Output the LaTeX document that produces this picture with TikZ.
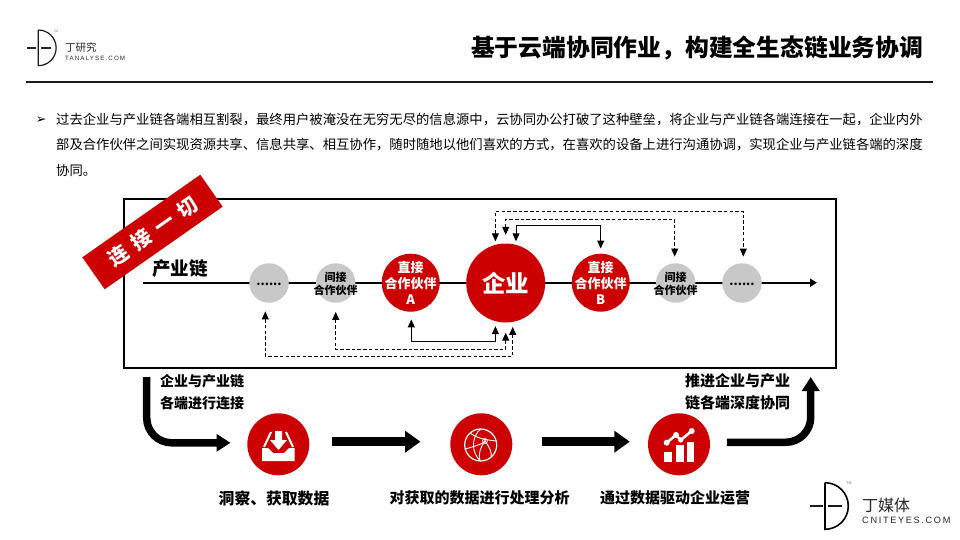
\documentclass[tikz,border=0pt]{standalone}
\usepackage{fontspec}
\setmainfont{Noto Sans CJK SC}
\newfontfamily\symfont{DejaVu Sans}
\newfontfamily\logofont[LetterSpace=18]{Liberation Sans}
\usetikzlibrary{arrows.meta}
\definecolor{chainred}{HTML}{CC0000}
\definecolor{chaingray}{HTML}{C8C8C8}
\newcommand{\fsz}[1]{\fontsize{#1}{#1}\selectfont}
\tikzset{
  hub/.style={circle, fill=chainred, inner sep=0pt, minimum size=58pt},
  side/.style={circle, fill=chaingray, inner sep=0pt, minimum size=39.5pt},
  stepdot/.style={circle, fill=chainred, inner sep=0pt, minimum size=62pt},
  hubtxt/.style={text=white, align=center, inner sep=0pt, font=\bfseries\fontsize{13}{15.6}\selectfont},
  sidetxt/.style={align=center, inner sep=0pt, font=\bfseries\fontsize{11}{13}\selectfont},
  steptxt/.style={inner sep=0pt, font=\bfseries\fsz{15}},
  notetxt/.style={align=left, inner sep=0pt, font=\bfseries\fontsize{14}{21.6}\selectfont},
  bodytxt/.style={anchor=west, inner sep=0pt, font=\fsz{13.33}},
  solidlink/.style={line width=1pt},
  dashlink/.style={line width=1pt, dash pattern=on 3.5pt off 2.2pt},
  bigarrow/.style={line width=8.5pt, -{Triangle[length=15.5pt,width=21pt]}}
}
\begin{document}
\begin{tikzpicture}[x=1pt, y=-1pt, >={Triangle[length=8pt,width=7pt]}]
\useasboundingbox (0,0) rectangle (960,540);

\draw[color=black!90, line width=1.2pt] (38.3,30) -- (38.3,65.7) arc (-90:90:17.85pt);
\draw[color=black!85, line width=1.2pt] (27,48) -- (36,48) (40.6,48) -- (51,48);
\node[inner sep=0pt, text=black!60, font=\fsz{3}] (tmtop) at (56,31) {TM};
\node[anchor=west, inner sep=0pt, text=black!85, font=\fsz{10.5}] (brandtop) at (65,47) {丁研究};
\node[anchor=west, inner sep=0pt, text=black!85, font=\logofont\fsz{6.2}] (urltop) at (65,58) {TANALYSE.COM};

\node[anchor=east, inner sep=0pt, font=\bfseries\fsz{23.8}] (title) at (923.5,48) {基于云端协同作业，构建全生态链业务协调};
\draw[line width=2pt, color=black!90] (26,81.7) -- (933,81.7);

\node[inner sep=0pt, font=\symfont\fsz{12.5}] (bullet) at (41,120.5) {➢};
\node[bodytxt] (bodya) at (56,120) {过去企业与产业链各端相互割裂，最终用户被淹没在无穷无尽的信息源中，云协同办公打破了这种壁垒，将企业与产业链各端连接在一起，企业内外};
\node[bodytxt] (bodyb) at (56,145) {部及合作伙伴之间实现资源共享、信息共享、相互协作，随时随地以他们喜欢的方式，在喜欢的设备上进行沟通协调，实现企业与产业链各端的深度};
\node[bodytxt] (bodyc) at (56,170) {协同。};

\draw[line width=2pt] (123.7,199) rectangle (836,367.7);
\node[fill=chainred, text=white, rotate=35, minimum width=144pt, minimum height=39pt, inner sep=0pt, font=\bfseries\fsz{20}] (banner) at (152.5,232) {\raisebox{-2pt}{连\hspace{8pt}接\hspace{8pt}一\hspace{8pt}切}};

\coordinate (chainL) at (143,282.7);
\coordinate (chainR) at (817,282.7);
\draw[line width=2pt, -{Triangle[length=7pt,width=8pt]}] (chainL) -- (chainR);
\node[inner sep=0pt, font=\bfseries\fsz{18.5}] (chain) at (180,269) {产业链};

\node[side] (moreL) at (269,283) {};
\node[side] (indirL) at (335.7,283) {};
\node[hub] (partA) at (410.7,282.7) {};
\node[hub, minimum size=79pt] (firm) at (505.7,283) {};
\node[hub] (partB) at (600.7,282.7) {};
\node[side] (indirR) at (675.7,283) {};
\node[side] (moreR) at (742,283) {};

\node[inner sep=0pt, font=\bfseries\fsz{12}] (moreLt) at (269,284) {......};
\node[sidetxt] (indirLt) at (335.7,283.5) {间接\\合作伙伴};
\node[hubtxt] (partAt) at (410.7,283) {直接\\合作伙伴\\A};
\node[text=white, inner sep=0pt, font=\bfseries\fsz{23.5}] (firmt) at (505.7,283) {企业};
\node[hubtxt] (partBt) at (600.7,283) {直接\\合作伙伴\\B};
\node[sidetxt] (indirRt) at (675.7,283.5) {间接\\合作伙伴};
\node[inner sep=0pt, font=\bfseries\fsz{12}] (moreRt) at (742,284) {......};

\draw[solidlink, <->] ([xshift=10.3pt,yshift=2pt]firm.north) -- ++(0,-15.5) -| ([yshift=5pt]partB.north);
\draw[dashlink, <->] ([xshift=-10.3pt,yshift=2pt]firm.north) |- (600,211.3) -| ([xshift=1.3pt,yshift=6.5pt]moreR.north);
\draw[dashlink, <->] ([yshift=8.5pt]firm.north) |- (600,219.3) -| ([xshift=-1pt,yshift=6.5pt]indirR.north);

\draw[solidlink, <->] ([xshift=.6pt,yshift=-7.5pt]partA.south) |- (450,341.3) -| ([xshift=-10.3pt,yshift=-3.5pt]firm.south);
\draw[dashlink, <->] ([yshift=-9pt]indirL.south) |- (420,349.3) -| ([yshift=-10pt]firm.south);
\draw[dashlink, <->] ([xshift=-3.7pt,yshift=-8.5pt]moreL.south) |- (420,356) -| ([xshift=7pt,yshift=-4.2pt]firm.south);

\node[notetxt] (noteL) at (202,392) {企业与产业链\\各端进行连接};
\node[notetxt, align=right, font=\bfseries\fontsize{15}{21.6}\selectfont] (noteR) at (737.5,392) {推进企业与产业\\链各端深度协同};

\node[stepdot] (stepa) at (278.3,444.3) {};
\node[stepdot] (stepb) at (481.3,444.3) {};
\node[stepdot] (stepc) at (679,444.3) {};
\node[steptxt, font=\bfseries\fsz{15.8}] (stepat) at (274,498) {洞察、获取数据};
\node[steptxt] (stepbt) at (479.5,497.5) {对获取的数据进行处理分析};
\node[steptxt] (stepct) at (675,497.5) {通过数据驱动企业运营};

\coordinate (boxout) at (146.7,377);
\coordinate (boxin) at (810.7,377);
\draw[bigarrow, line width=7.5pt, -{Triangle[length=14pt,width=17pt]}, rounded corners=25pt] (boxout) |- ([xshift=-16.6pt,yshift=1.5pt]stepa.west);
\draw[bigarrow] ([xshift=22.7pt,yshift=2.6pt]stepa.east) -- ([xshift=-29.6pt,yshift=2.6pt]stepb.west);
\draw[bigarrow] ([xshift=29.7pt,yshift=2.6pt]stepb.east) -- ([xshift=-18pt,yshift=2.6pt]stepc.west);
\draw[bigarrow, line width=7.5pt, -{Triangle[length=14pt,width=17pt]}, rounded corners=25pt] ([xshift=16.7pt,yshift=2pt]stepc.east) -| (boxin);

% tray icon
\fill[white] (262,448) -- (268,448) -- (273,453) -- (284,453) -- (289,448) -- (294.5,448) -- (294.5,461) -- (262,461) -- cycle;
\draw[white, line width=2pt] (271,432) -- (264,447) (286,432) -- (293,447);
\fill[white] (275,431) -- (282,431) -- (282,440) -- (287,440) -- (278.5,450) -- (270,440) -- (275,440) -- cycle;

% globe icon
\draw[white, line width=1.2pt] (480.7,445) circle (16pt);
\draw[white, line width=.9pt] (480.7,429) .. controls (471,437) and (471,453) .. (480.7,461);
\draw[white, line width=.9pt] (470,433) .. controls (478,439) and (488,440) .. (496,441);
\draw[white, line width=.9pt] (465.5,449) .. controls (475,446) and (483,444) .. (485,441);
\draw[white, line width=.9pt] (485,441) .. controls (490,448) and (492,452) .. (491,457);
\draw[white, line width=.9pt] (485,441) .. controls (480,448) and (478,455) .. (480,461);
\draw[white, line width=.8pt] (485,441) circle (2.4pt);
\fill[white] (485,441) circle (1pt);

% chart icon
\fill[white] (664.3,451.7) rectangle (672.3,462);
\fill[white] (676,445) rectangle (684,462);
\fill[white] (687.3,441.7) rectangle (694,462);
\draw[white, line width=2.6pt, line join=round] (666.7,442.7) -- (676,435) -- (680.7,440) -- (691.7,431);
\fill[white] (666.7,442.7) circle (3pt) (676,435) circle (3pt) (680.7,440) circle (2.6pt) (691.7,431) circle (3pt);

\draw[color=black, line width=1.6pt] (825,482.7) -- (825,529.3) arc (-90:90:23.3pt);
\draw[color=black!90, line width=1.6pt] (810,505.7) -- (822.5,505.7) (827.5,505.7) -- (842,505.7);
\node[inner sep=0pt, text=black!60, font=\fsz{3.6}] (tmbot) at (849,483.5) {TM};
\node[anchor=west, inner sep=0pt, text=black!85, font=\fsz{16}] (brandbot) at (862,505) {丁媒体};
\node[anchor=west, inner sep=0pt, text=black!85, font=\logofont\fsz{9.2}] (urlbot) at (862,520.7) {CNITEYES.COM};
\end{tikzpicture}
\end{document}
